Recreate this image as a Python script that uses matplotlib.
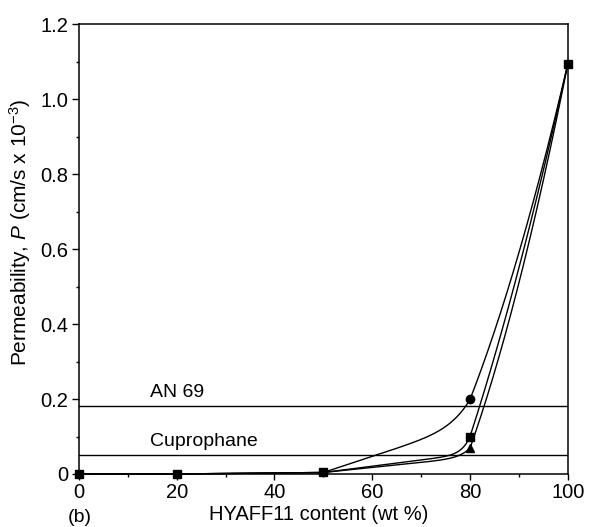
import numpy as np
import matplotlib
matplotlib.use("Agg")
import matplotlib.pyplot as plt

plt.rcParams['font.family'] = ['Liberation Sans', 'DejaVu Sans']
plt.rcParams['mathtext.fontset'] = 'custom'
plt.rcParams['mathtext.it'] = 'Liberation Sans:italic'
plt.rcParams['mathtext.rm'] = 'Liberation Sans'

# Data
hyaff = [0, 20, 50, 80, 100]
circle_vals = [0.0, 0.0, 0.004, 0.199, 1.094]
square_vals = [0.0, 0.0, 0.004, 0.100, 1.094]
triangle_vals = [0.0, 0.0, 0.004, 0.069, 1.094]
an69_level = 0.182
cuprophane_level = 0.050
x_ticks = [0, 20, 40, 60, 80, 100]
y_ticks = [0, 0.2, 0.4, 0.6, 0.8, 1.0, 1.2]
y_ticklabels = ['0', '0.2', '0.4', '0.6', '0.8', '1.0', '1.2']

# Curve shape per segment: y(t) = c*t + (1-c)*t**n  (drawing style only)
shape = {
    'circle':   [(1, 1), (1, 1), (0.66, 8), (0.75, 2)],
    'square':   [(1, 1), (1, 1), (0.52, 18), (0.81, 2)],
    'triangle': [(1, 1), (1, 1), (0.62, 14), (0.72, 2)],
}


def smooth(xs, ys, params, n_pts=120):
    outx, outy = [], []
    for i in range(len(xs) - 1):
        x0, x1, y0, y1 = xs[i], xs[i + 1], ys[i], ys[i + 1]
        c, n = params[i]
        t = np.linspace(0, 1, n_pts)
        f = c * t + (1 - c) * t ** n
        outx.extend(x0 + (x1 - x0) * t)
        outy.extend(y0 + (y1 - y0) * f)
    return np.array(outx), np.array(outy)


fig = plt.figure(figsize=(5.89, 5.27), dpi=100)
ax = fig.add_axes([0.134, 0.1006, 0.830, 0.8534])

lw = 1.0
ax.axhline(an69_level, color='black', lw=lw)
ax.axhline(cuprophane_level, color='black', lw=lw)

for name, vals in [('circle', circle_vals), ('square', square_vals),
                   ('triangle', triangle_vals)]:
    sx, sy = smooth(hyaff, vals, shape[name])
    ax.plot(sx, sy, color='black', lw=lw, clip_on=False)

ax.plot(hyaff[3], circle_vals[3], 'o', color='black', ms=6, clip_on=False, zorder=5)
ax.plot(hyaff[3], triangle_vals[3], '^', color='black', ms=6, clip_on=False, zorder=5)
ax.plot(hyaff, square_vals, 's', color='black', ms=6, clip_on=False, zorder=5)

ax.text(14.5, an69_level + 0.014, 'AN 69', fontsize=14, va='bottom', ha='left')
ax.text(14.5, cuprophane_level + 0.014, 'Cuprophane', fontsize=14, va='bottom', ha='left')

ax.set_xlim(0, 100)
ax.set_ylim(0, 1.2)
ax.set_xticks(x_ticks)
ax.set_xticks(np.arange(10, 100, 20), minor=True)
ax.set_yticks(y_ticks)
ax.set_yticklabels(y_ticklabels)
ax.set_yticks(np.arange(0.1, 1.2, 0.2), minor=True)
ax.tick_params(axis='y', which='major', direction='out', length=5, width=1.0,
               labelsize=14.5, pad=2.5)
ax.tick_params(axis='x', which='major', direction='out', length=4, width=1.0,
               labelsize=14.5, pad=2.5)
ax.tick_params(axis='both', which='minor', direction='out', length=2.5, width=1.0)
for s in ax.spines.values():
    s.set_linewidth(1.1)

ax.set_xlabel('HYAFF11 content (wt %)', fontsize=14.5)
ax.xaxis.set_label_coords(0.49, -0.07)
ax.set_ylabel(r'Permeability, $P$ (cm/s x 10$^{-3}$)', fontsize=15)
ax.yaxis.set_label_coords(-0.094, 0.537)
fig.text(80 / 589, 1 - 518 / 527, '(b)', fontsize=14, ha='center', va='center')

fig.savefig('out.png', dpi=100)
